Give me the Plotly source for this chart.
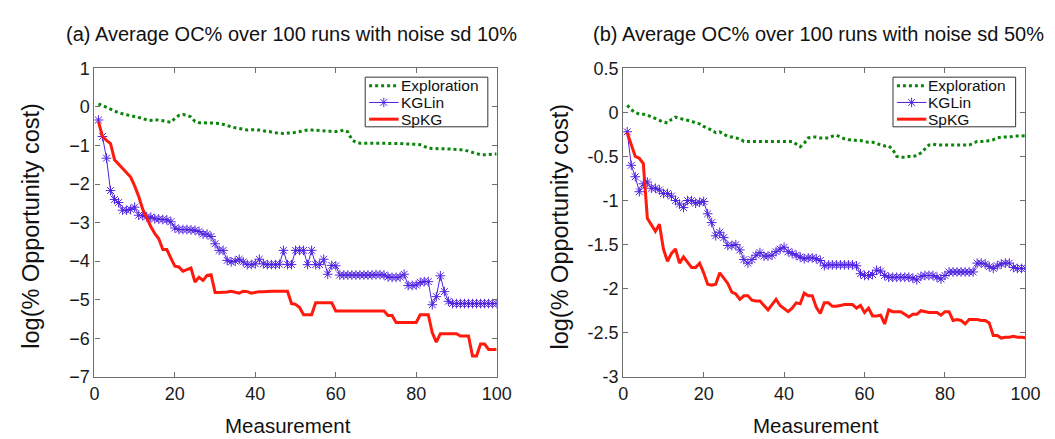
import plotly.graph_objects as go

x = list(range(1, 101))

# ---- Panel (a): noise sd 10% ----
a_exploration = [0.08, 0.03, -0.02, -0.07, -0.12, -0.15, -0.18, -0.2, -0.22, -0.25,
                 -0.27, -0.3, -0.34, -0.35, -0.33, -0.34, -0.36, -0.38, -0.4, -0.3,
                 -0.22, -0.2, -0.22, -0.26, -0.38, -0.41, -0.41, -0.41, -0.41, -0.42,
                 -0.43, -0.45, -0.48, -0.52, -0.55, -0.56, -0.58, -0.6, -0.59, -0.59,
                 -0.6, -0.62, -0.63, -0.65, -0.67, -0.68, -0.69, -0.68, -0.68, -0.66,
                 -0.64, -0.61, -0.6, -0.6, -0.61, -0.62, -0.62, -0.63, -0.63, -0.64,
                 -0.63, -0.6, -0.65, -0.85, -0.92, -0.94, -0.94, -0.94, -0.94, -0.94,
                 -0.94, -0.94, -0.94, -0.95, -0.95, -0.95, -0.96, -0.96, -0.97, -0.97,
                 -0.98, -1.03, -1.07, -1.08, -1.08, -1.08, -1.09, -1.09, -1.1, -1.1,
                 -1.11, -1.12, -1.15, -1.18, -1.21, -1.24, -1.24, -1.24, -1.23, -1.22]
a_kglin = [-0.34, -0.77, -1.33, -2.17, -2.4, -2.48, -2.68, -2.68, -2.66, -2.6,
           -2.81, -2.82, -2.85, -2.86, -2.9, -2.91, -2.92, -2.93, -2.98, -3.14,
           -3.18, -3.18, -3.18, -3.19, -3.2, -3.23, -3.3, -3.3, -3.36, -3.55,
           -3.72, -3.72, -3.98, -4.02, -4.0, -3.95, -4.02, -4.09, -4.09, -4.07,
           -3.95, -4.07, -4.09, -4.09, -4.09, -4.08, -3.72, -4.09, -4.09, -3.72,
           -3.72, -3.72, -4.09, -3.72, -4.09, -4.09, -3.95, -4.34, -4.11, -4.12,
           -4.36, -4.36, -4.36, -4.36, -4.36, -4.36, -4.36, -4.36, -4.36, -4.35,
           -4.35, -4.36, -4.41, -4.42, -4.42, -4.41, -4.34, -4.63, -4.63, -4.62,
           -4.55, -4.53, -4.53, -5.13, -4.92, -4.38, -4.79, -5.04, -5.1, -5.1,
           -5.1, -5.1, -5.1, -5.1, -5.1, -5.1, -5.1, -5.1, -5.1, -5.1]
a_spkg = [-0.38, -0.77, -0.87, -0.95, -1.37, -1.48, -1.6, -1.7, -1.82, -2.05,
          -2.32, -2.65, -2.9, -3.1, -3.28, -3.42, -3.7, -3.7, -3.92, -4.13,
          -4.15, -4.26, -4.22, -4.18, -4.54, -4.42, -4.5, -4.37, -4.35, -4.81,
          -4.81, -4.81, -4.8, -4.78, -4.8, -4.83, -4.78, -4.79, -4.83, -4.8,
          -4.79, -4.79, -4.78, -4.78, -4.78, -4.78, -4.78, -4.78, -5.1, -5.12,
          -5.2, -5.39, -5.39, -5.39, -5.08, -5.08, -5.08, -5.08, -5.08, -5.29,
          -5.29, -5.29, -5.29, -5.29, -5.29, -5.29, -5.29, -5.29, -5.29, -5.29,
          -5.29, -5.29, -5.41, -5.41, -5.59, -5.59, -5.59, -5.59, -5.59, -5.59,
          -5.39, -5.39, -5.39, -5.86, -6.1, -5.88, -5.88, -5.88, -5.88, -5.88,
          -5.94, -5.94, -5.94, -6.46, -6.46, -6.15, -6.15, -6.29, -6.29, -6.29]

# ---- Panel (b): noise sd 50% ----
b_exploration = [0.08, 0.03, 0.0, -0.02, -0.02, -0.03, -0.05, -0.07, -0.09, -0.11,
                 -0.12, -0.08, -0.055, -0.07, -0.08, -0.09, -0.1, -0.12, -0.13, -0.16,
                 -0.18, -0.2, -0.23, -0.22, -0.25, -0.27, -0.28, -0.29, -0.3, -0.33,
                 -0.33, -0.33, -0.33, -0.33, -0.33, -0.33, -0.33, -0.33, -0.33, -0.33,
                 -0.33, -0.33, -0.36, -0.39, -0.35, -0.29, -0.28, -0.28, -0.29, -0.29,
                 -0.29, -0.27, -0.26, -0.28, -0.3, -0.31, -0.31, -0.32, -0.32, -0.33,
                 -0.34, -0.34, -0.35, -0.37, -0.38, -0.38, -0.42, -0.5, -0.51, -0.51,
                 -0.5, -0.5, -0.49, -0.46, -0.42, -0.37, -0.36, -0.37, -0.37, -0.37,
                 -0.37, -0.37, -0.37, -0.37, -0.37, -0.37, -0.35, -0.33, -0.33, -0.33,
                 -0.32, -0.31, -0.29, -0.28, -0.28, -0.28, -0.27, -0.27, -0.27, -0.265]
b_kglin = [-0.22, -0.6, -0.73, -0.9, -0.81, -0.79, -0.86, -0.86, -0.88, -0.92,
           -0.92, -0.95, -1.0, -1.04, -1.08, -1.0, -1.0, -1.03, -1.02, -1.01,
           -1.15, -1.25, -1.4, -1.36, -1.42, -1.51, -1.51, -1.5, -1.56, -1.67,
           -1.71, -1.67, -1.62, -1.59, -1.63, -1.63, -1.62, -1.58, -1.55, -1.53,
           -1.58, -1.6, -1.62, -1.64, -1.66, -1.65, -1.65, -1.66, -1.68, -1.74,
           -1.73, -1.73, -1.73, -1.73, -1.73, -1.73, -1.73, -1.74, -1.83, -1.85,
           -1.85, -1.84, -1.79, -1.8, -1.85, -1.87, -1.87, -1.87, -1.87, -1.87,
           -1.87, -1.88, -1.9, -1.86, -1.85, -1.85, -1.85, -1.87, -1.89, -1.85,
           -1.81, -1.81, -1.81, -1.81, -1.81, -1.81, -1.81, -1.71, -1.71, -1.72,
           -1.75, -1.77, -1.74, -1.72, -1.71, -1.71, -1.76, -1.77, -1.77, -1.77]
b_spkg = [-0.23, -0.37, -0.5, -0.52, -0.58, -1.2, -1.27, -1.35, -1.27, -1.55,
          -1.69, -1.6, -1.55, -1.71, -1.64, -1.7, -1.76, -1.76, -1.71, -1.82,
          -1.95, -1.96, -1.95, -1.82, -1.88, -1.94, -2.04, -2.06, -2.12, -2.08,
          -2.08, -2.13, -2.14, -2.14, -2.19, -2.24, -2.18, -2.12, -2.19, -2.22,
          -2.26, -2.22, -2.16, -2.17, -2.05, -2.08, -2.08, -2.21, -2.28, -2.16,
          -2.16, -2.2, -2.2, -2.19, -2.18, -2.18, -2.18, -2.22, -2.19, -2.27,
          -2.22, -2.31, -2.31, -2.3, -2.4, -2.24, -2.26, -2.26, -2.26, -2.29,
          -2.32, -2.29, -2.29, -2.25, -2.26, -2.27, -2.27, -2.27, -2.3, -2.26,
          -2.26, -2.36, -2.35, -2.36, -2.4, -2.35, -2.35, -2.35, -2.36, -2.36,
          -2.39, -2.53, -2.53, -2.56, -2.55, -2.55, -2.54, -2.55, -2.55, -2.555]

series_names = ["Exploration", "KGLin", "SpKG"]
titles = ["(a) Average OC% over 100 runs with noise sd 10%",
          "(b) Average OC% over 100 runs with noise sd 50%"]
x_ticks = [0, 20, 40, 60, 80, 100]
a_yticks = [1, 0, -1, -2, -3, -4, -5, -6, -7]
b_yticks = [0.5, 0, -0.5, -1, -1.5, -2, -2.5, -3]
b_yticktext = ["0.5", "0", "-0.5", "-1", "-1.5", "-2", "-2.5", "-3"]

GREEN = "#0a850a"
BLUE = "#4f22e0"
RED = "#ff1a0d"
FONT = "Liberation Sans, Arial, Helvetica, sans-serif"
W, H = 1055, 439

STYLES = [
    dict(mode="lines", line=dict(color=GREEN, width=3, dash="3px,3px")),
    dict(mode="lines+markers", line=dict(color=BLUE, width=1),
         marker=dict(symbol="asterisk-open", size=8, color=BLUE,
                     line=dict(color=BLUE, width=1))),
    dict(mode="lines", line=dict(color=RED, width=3)),
]

fig = go.Figure()

panels = [
    ([a_exploration, a_kglin, a_spkg], "x", "y"),
    ([b_exploration, b_kglin, b_spkg], "x2", "y2"),
]
for series, xa, ya in panels:
    for name, vals, st in zip(series_names, series, STYLES):
        fig.add_trace(go.Scatter(x=x, y=vals, name=name, xaxis=xa, yaxis=ya,
                                 showlegend=False, **st))

# ---- hand-built legends (pixel overlay axis) ----
legend_boxes = [(359, 484), (897, 1022)]
legend_top, legend_bottom = 62, 114
row_y = [71, 88.5, 106]
shapes = []
annotations = []
for bx0, bx1 in legend_boxes:
    shapes.append(dict(type="rect", xref="paper", yref="paper",
                       x0=bx0 / W, x1=bx1 / W, y0=1 - legend_bottom / H, y1=1 - legend_top / H,
                       line=dict(color="#333333", width=1), fillcolor="white", layer="below"))
    lx0, lx1 = bx0 + 4, bx0 + 34
    for name, st, ry in zip(series_names, STYLES, row_y):
        fig.add_trace(go.Scatter(x=[lx0, lx1], y=[ry, ry], mode="lines", line=st["line"],
                                 xaxis="x3", yaxis="y3", showlegend=False, hoverinfo="skip"))
        if "marker" in st:
            fig.add_trace(go.Scatter(x=[(lx0 + lx1) / 2], y=[ry], mode="markers",
                                     marker=st["marker"], xaxis="x3", yaxis="y3",
                                     showlegend=False, hoverinfo="skip"))
        annotations.append(dict(text=name, x=(lx1 + 1) / W, y=1 - ry / H, xref="paper",
                                yref="paper", xanchor="left", yanchor="middle",
                                showarrow=False, borderpad=0,
                                font=dict(family=FONT, size=15.5, color="#111111")))

ytop = 1 - 52.7 / H
ybot = 1 - 376 / H

axis_common = dict(showline=True, linecolor="#6e6e6e", linewidth=1.3, mirror="ticks",
                   ticks="inside", ticklen=5, tickcolor="#6e6e6e", showgrid=False,
                   zeroline=False, tickfont=dict(family=FONT, size=18, color="#1a1a1a"))

fig.update_layout(
    width=W, height=H,
    margin=dict(l=0, r=0, t=0, b=0),
    paper_bgcolor="white", plot_bgcolor="rgba(0,0,0,0)",
    font=dict(family=FONT, color="#1a1a1a"),
    showlegend=False,
    xaxis=dict(domain=[83 / W, 493 / W], range=[0, 100], tickvals=x_ticks,
               anchor="y", **axis_common),
    yaxis=dict(domain=[ybot, ytop], range=[-7, 1], tickvals=a_yticks,
               anchor="x", **axis_common),
    xaxis2=dict(domain=[622 / W, 1032 / W], range=[0, 100], tickvals=x_ticks,
                anchor="y2", **axis_common),
    yaxis2=dict(domain=[ybot, ytop], range=[-3, 0.5], tickvals=b_yticks,
                ticktext=b_yticktext, anchor="x2", **axis_common),
    xaxis3=dict(domain=[0, 1], range=[0, W], visible=False, anchor="y3", fixedrange=True),
    yaxis3=dict(domain=[0, 1], range=[H, 0], visible=False, anchor="x3", fixedrange=True),
)

title_centers = [284, 821]
xlabel_centers = [280, 819]
for i in range(2):
    annotations.append(dict(text=titles[i], x=title_centers[i] / W, y=1 - 17 / H,
                            xref="paper", yref="paper", xanchor="center", yanchor="middle",
                            showarrow=False,
                            font=dict(family=FONT, size=20, color="#111111")))
    annotations.append(dict(text="Measurement", x=xlabel_centers[i] / W, y=1 - 427 / H,
                            xref="paper", yref="paper", xanchor="center", yanchor="middle",
                            showarrow=False,
                            font=dict(family=FONT, size=20.5, color="#111111")))
for xc in [18, 558]:
    annotations.append(dict(text="log(% Opportunity cost)", x=xc / W, y=1 - 218 / H,
                            xref="paper", yref="paper", xanchor="center", yanchor="middle",
                            textangle=-90, showarrow=False,
                            font=dict(family=FONT, size=23.5, color="#111111")))
fig.update_layout(annotations=annotations, shapes=shapes)

fig.write_html("out.html")
